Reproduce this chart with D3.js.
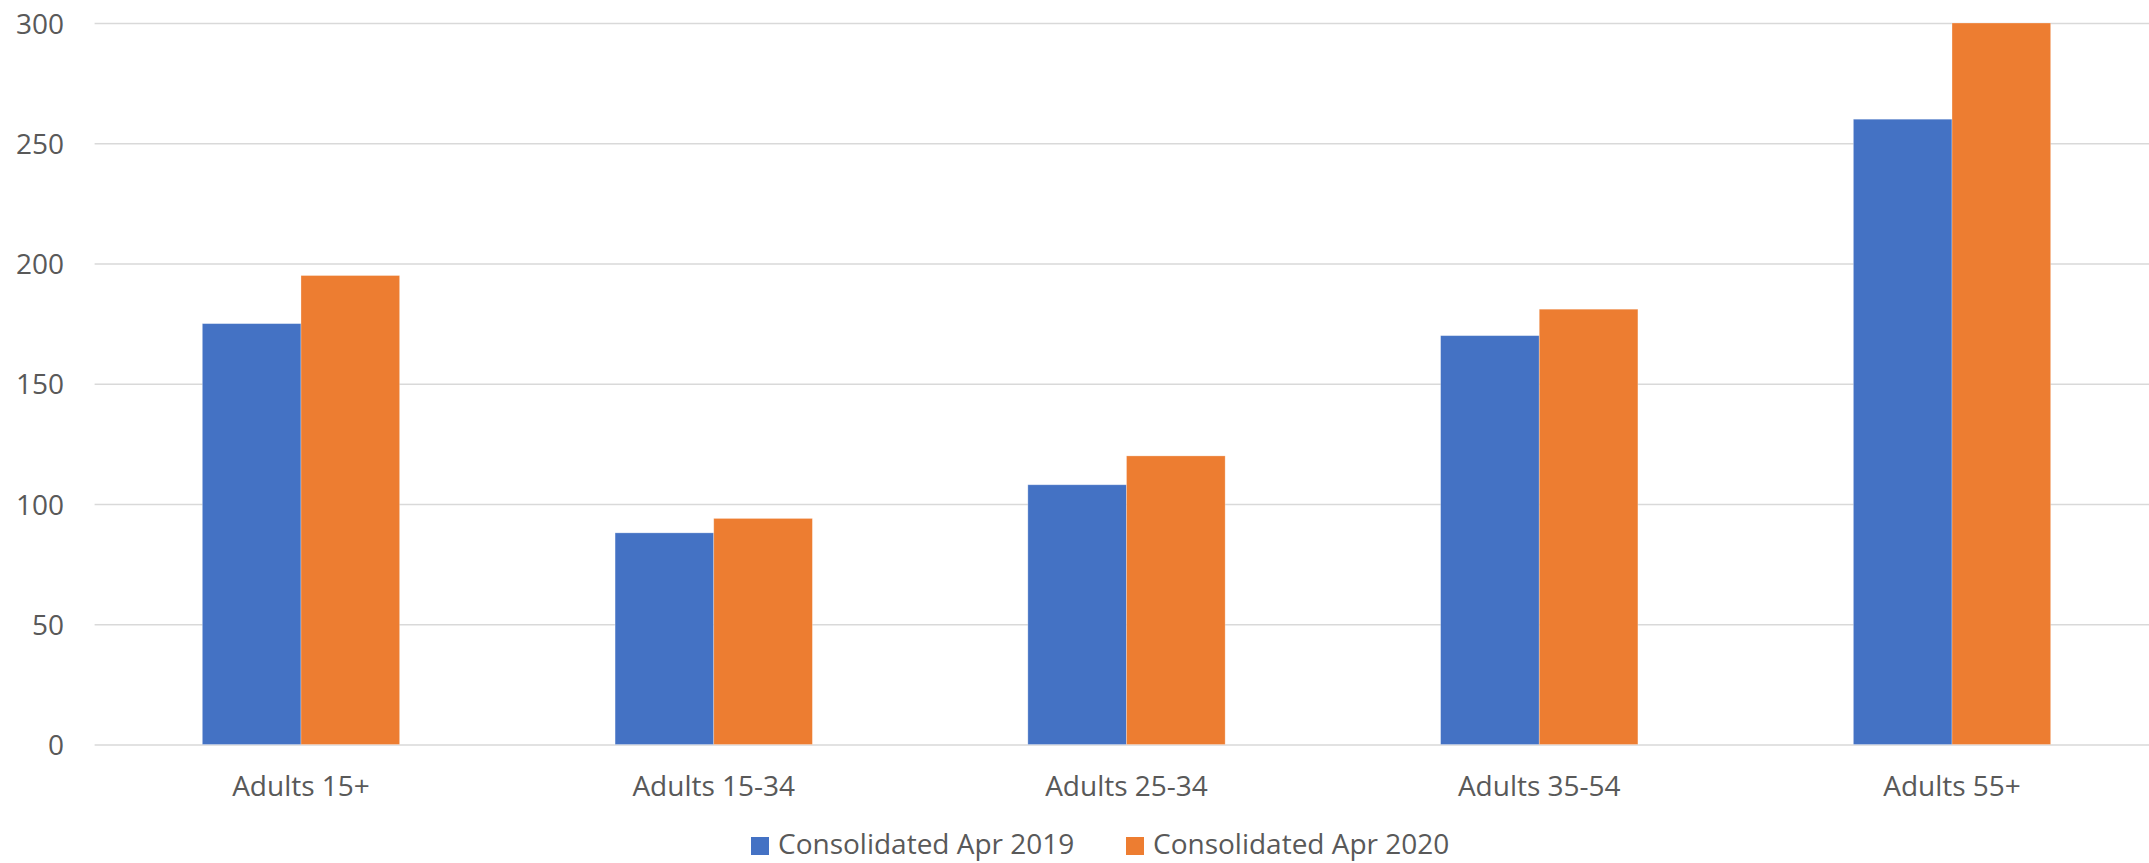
<!DOCTYPE html>
<html>
<head>
<meta charset="utf-8">
<script src="https://cdn.jsdelivr.net/npm/d3@7"></script>
<style>
  html, body { margin: 0; padding: 0; background: #fff; }
  svg { display: block; }
  text { font-family: "Open Sans", "Noto Sans", sans-serif; fill: #595959; }
</style>
</head>
<body>
<svg id="chart" width="2149" height="863"></svg>
<script>
// ---- data ----
const categories = ["Adults 15+", "Adults 15-34", "Adults 25-34", "Adults 35-54", "Adults 55+"];
const seriesNames = ["Consolidated Apr 2019", "Consolidated Apr 2020"];
const apr2019 = [175, 88, 108, 170, 260];
const apr2020 = [195, 94, 120, 181, 300];
const yTicks = [0, 50, 100, 150, 200, 250, 300];
const colors = ["#4472C4", "#ED7D31"];

// ---- layout ----
(function () {
const plotL = 94.6, plotR = 2158.4, plotT = 23, plotB = 744.5;
const fontSize = 28;

const svg = d3.select("#chart");

const x0 = d3.scaleBand().domain(categories).range([plotL, plotR])
  .paddingInner(0.522).paddingOuter(0.261);
const x1 = d3.scaleBand().domain(seriesNames).range([0, x0.bandwidth()]).padding(0);
const y = d3.scaleLinear().domain([0, 300]).range([plotB, plotT]);

// gridlines + y labels
const yAxis = d3.axisLeft(y).tickValues(yTicks).tickSize(-(plotR - plotL)).tickPadding(30);
const gy = svg.append("g").attr("transform", `translate(${plotL},0)`).call(yAxis);
gy.select(".domain").remove();
gy.selectAll(".tick line").attr("stroke", "#D9D9D9").attr("stroke-width", 1.5);
gy.selectAll(".tick text")
  .attr("x", 64 - plotL)
  .attr("dy", "0.36em")
  .attr("text-anchor", "end")
  .style("font-size", fontSize + "px")
  .style("font-family", "'Open Sans', sans-serif")
  .attr("fill", "#595959");

// bars
const rows = categories.map((c, i) => ({ cat: c, vals: [apr2019[i], apr2020[i]] }));
const groups = svg.append("g").selectAll("g").data(rows).join("g")
  .attr("transform", d => `translate(${x0(d.cat)},0)`);
groups.selectAll("rect")
  .data(d => d.vals.map((v, j) => ({ name: seriesNames[j], v, j })))
  .join("rect")
  .attr("x", d => x1(d.name))
  .attr("y", d => y(d.v))
  .attr("width", x1.bandwidth())
  .attr("height", d => y(0) - y(d.v))
  .attr("fill", d => colors[d.j])
  .attr("stroke", "#ffffff")
  .attr("stroke-opacity", 0.35)
  .attr("stroke-width", 0.8);

// x axis labels
const xAxis = d3.axisBottom(x0).tickSize(0).tickPadding(0);
const gx = svg.append("g").attr("transform", `translate(0,${plotB})`).call(xAxis);
gx.select(".domain").remove();
gx.selectAll(".tick text")
  .attr("y", 796 - plotB)
  .attr("dy", 0)
  .style("font-size", fontSize + "px")
  .style("font-family", "'Open Sans', sans-serif")
  .attr("fill", "#595959");

// legend
const legendX = [751, 1126];
const legend = svg.append("g");
seriesNames.forEach((name, i) => {
  const g = legend.append("g").attr("transform", `translate(${legendX[i]},0)`);
  g.append("rect").attr("x", 0).attr("y", 837).attr("width", 18).attr("height", 18).attr("fill", colors[i]);
  g.append("text").attr("x", 27).attr("y", 854)
    .style("font-size", fontSize + "px")
    .text(name);
});
})();
</script>
</body>
</html>
